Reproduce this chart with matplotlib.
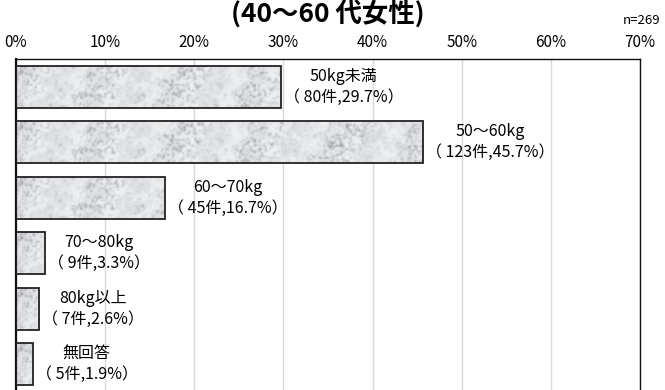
import numpy as np
import matplotlib
matplotlib.use('Agg')
import matplotlib.pyplot as plt
from matplotlib.colors import LinearSegmentedColormap

plt.rcParams['font.family'] = ['Noto Sans CJK JP', 'DejaVu Sans']

categories = ['50kg未満', '50〜60kg', '60〜70kg', '70〜80kg', '80kg以上', '無回答']
counts = [80, 123, 45, 9, 7, 5]
percents = [29.7, 45.7, 16.7, 3.3, 2.6, 1.9]
xticks = [0, 10, 20, 30, 40, 50, 60, 70]
title = '(40〜60 代女性)'
n_label = 'n=269'

DPI = 100
W, H = 665, 390

# (period px, angle deg, phase, weight) of the waves that make up the marble turbulence
MARBLE_WAVES = [(37, 20, 0.3, 1.0), (23, 115, 1.7, 0.8), (15, 60, 2.9, 0.6),
                (11, 160, 0.9, 0.45), (7.3, 35, 4.1, 0.35), (5.1, 95, 2.2, 0.25),
                (3.7, 140, 5.3, 0.2), (2.9, 10, 3.6, 0.15)]


def marble(w, h):
    # soft grey-white marble with rising diagonal streaks (x, y in pixels)
    x, y = np.meshgrid(np.arange(0, w, 1.5), np.arange(0, h, 1.5))
    turb = np.zeros_like(x)
    for per, ang, ph, wt in MARBLE_WAVES:
        a = np.radians(ang)
        turb += wt * np.sin(2 * np.pi * (x * np.cos(a) + y * np.sin(a)) / per + ph)
    v = np.sin((x + 1.2 * y) / 6.0 + 1.6 * turb)
    veins = np.exp(-(v / 0.4) ** 2)
    patch = 0.3 + 0.7 * (0.5 + 0.5 * np.sin(2 * np.pi * (x + 0.7 * y) / 83.0 + 0.8 + 0.5 * turb))
    cloud = 0.5 + 0.5 * np.tanh(turb)
    return 0.94 - 0.06 * cloud - 0.22 * veins * patch


marble_cmap = LinearSegmentedColormap.from_list('marble', ['#95979d', '#cbcdd1', '#eff0f2'])

fig = plt.figure(figsize=(W / DPI, H / DPI), dpi=DPI)
ax = fig.add_axes([16 / W, -2 / H, 624 / W, 333 / H])

y = np.arange(len(categories))
bars = ax.barh(y, percents, height=0.75, fill=False, edgecolor='#222222', linewidth=1.3, zorder=3)

# fill each bar with the marble pattern
px_per_unit = 624 / 70
for b in bars:
    x0, w = b.get_x(), b.get_width()
    y0, h = b.get_y(), b.get_height()
    wp = max(int(round(w * px_per_unit)), 4)
    ax.imshow(marble(wp, 42), cmap=marble_cmap, vmin=0.66, vmax=0.94,
              extent=(x0, x0 + w, y0 + h, y0), aspect='auto', zorder=2,
              interpolation='bicubic')

ax.set_xlim(0, 70)
ax.set_ylim(len(categories) - 0.5, -0.5)

for b, cat, c, p in zip(bars, categories, counts, percents):
    ax.annotate(f'{cat}\n（ {c}件,{p}%）', xy=(b.get_width(), b.get_y() + b.get_height() / 2),
                xytext=(2, 0), textcoords='offset points', ha='left', va='center',
                multialignment='center', fontsize=11.5, linespacing=1.3, zorder=4)

ax.set_xticks(xticks)
ax.set_xticklabels([f'{t}%' for t in xticks], fontsize=11)
ax.xaxis.tick_top()
ax.tick_params(axis='x', length=0, pad=6)
ax.set_yticks([])
ax.grid(axis='x', color='#d9d9d9', linewidth=1, zorder=0)
ax.set_axisbelow(True)
for side in ['top', 'right', 'bottom']:
    ax.spines[side].set_linewidth(1)
    ax.spines[side].set_color('#111111')
ax.spines['left'].set_linewidth(1.6)
ax.spines['left'].set_color('#111111')

fig.text(328 / W, 1 - 15 / H, title, ha='center', va='center', fontsize=19, fontweight='bold')
fig.text(1 - 5 / W, 1 - 20 / H, n_label, ha='right', va='center', fontsize=9.5)

fig.savefig('out.png', dpi=DPI)
